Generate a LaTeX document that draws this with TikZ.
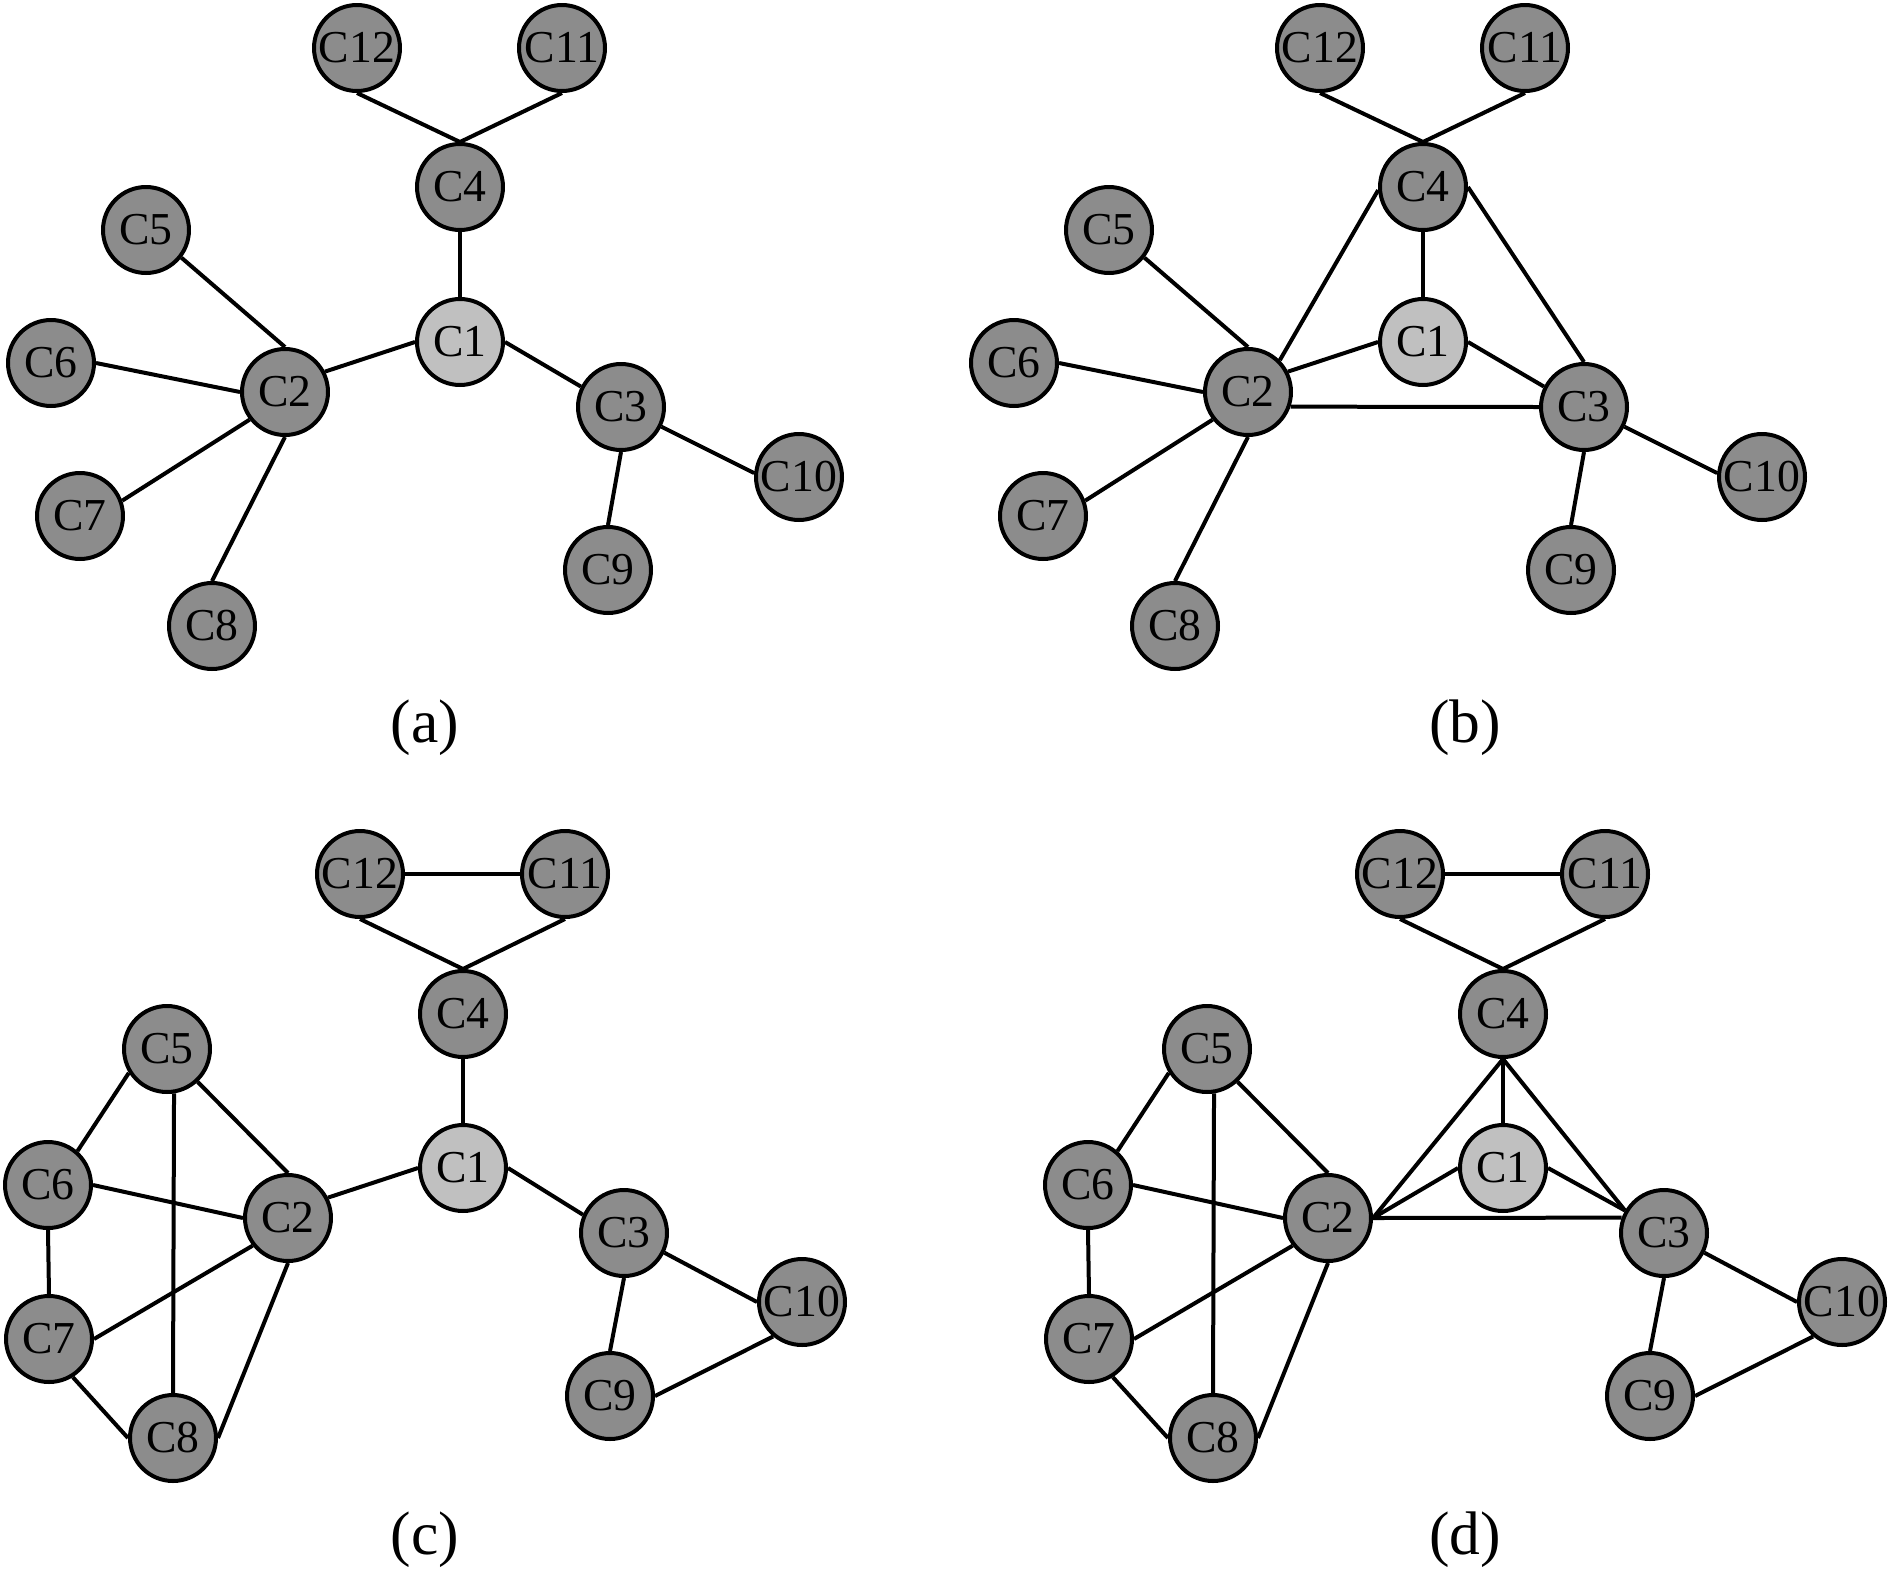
\documentclass[tikz,border=0pt]{standalone}
\usepackage{fontspec}
\setmainfont{Liberation Serif}
\definecolor{nodedark}{RGB}{140,140,140}
\definecolor{nodelight}{RGB}{192,192,192}
\tikzset{
  cbase/.style={circle, draw=black, line width=0.08cm, minimum size=1.72cm, inner sep=0pt,
    font=\fontsize{26pt}{26pt}\selectfont},
  cn/.style={cbase, fill=nodedark},
  cl/.style={cbase, fill=nodelight},
  ed/.style={line width=0.08cm, black},
  plabel/.style={font=\fontsize{35pt}{35pt}\selectfont, inner sep=0pt}
}
\newcommand\mytreeab[2]{%
  \begin{scope}[shift={(#2,0)}]
    \node[cn] (#1c12) at (357,48) {C12};
    \node[cn] (#1c11) at (562,48) {C11};
    \node[cn] (#1c4) at (460,187) {C4};
    \node[cn] (#1c5) at (146,230) {C5};
    \node[cl] (#1c1) at (460,342) {C1};
    \node[cn] (#1c6) at (51,363) {C6};
    \node[cn] (#1c2) at (285,392) {C2};
    \node[cn] (#1c3) at (621,407) {C3};
    \node[cn] (#1c10) at (799,477) {C10};
    \node[cn] (#1c7) at (80,516) {C7};
    \node[cn] (#1c9) at (608,570) {C9};
    \node[cn] (#1c8) at (212,626) {C8};
  \end{scope}
  \draw[ed] (#1c4.north) -- (#1c12.south);
  \draw[ed] (#1c4.north) -- (#1c11.south);
  \draw[ed] (#1c4.south) -- (#1c1.north);
  \draw[ed] (#1c1.west) -- (#1c2.27);
  \draw[ed] (#1c1.east) -- (#1c3.153);
  \draw[ed] (#1c2.north) -- (#1c5.-38);
  \draw[ed] (#1c2.west) -- (#1c6.east);
  \draw[ed] (#1c2.218) -- (#1c7.20);
  \draw[ed] (#1c2.south) -- (#1c8.north);
  \draw[ed] (#1c3.south) -- (#1c9.north);
  \draw[ed] (#1c3.-26) -- (#1c10.175);
}
\newcommand\mytreecd[2]{%
  \begin{scope}[shift={(#2,0)}]
    \node[cn] (#1c12) at (360,874) {C12};
    \node[cn] (#1c11) at (565,874) {C11};
    \node[cn] (#1c4) at (463,1014) {C4};
    \node[cn] (#1c5) at (167,1049) {C5};
    \node[cl] (#1c1) at (463,1168) {C1};
    \node[cn] (#1c6) at (48,1185) {C6};
    \node[cn] (#1c2) at (288,1218) {C2};
    \node[cn] (#1c3) at (624,1233) {C3};
    \node[cn] (#1c10) at (802,1302) {C10};
    \node[cn] (#1c7) at (49,1339) {C7};
    \node[cn] (#1c9) at (610,1396) {C9};
    \node[cn] (#1c8) at (173,1438) {C8};
  \end{scope}
  \draw[ed] (#1c12.east) -- (#1c11.west);
  \draw[ed] (#1c4.north) -- (#1c12.south);
  \draw[ed] (#1c4.north) -- (#1c11.south);
  \draw[ed] (#1c4.south) -- (#1c1.north);
  \draw[ed] (#1c5.212) -- (#1c6.49);
  \draw[ed] (#1c5.-81) -- (#1c8.north);
  \draw[ed] (#1c5.-47) -- (#1c2.north);
  \draw[ed] (#1c6.east) -- (#1c2.west);
  \draw[ed] (#1c6.south) -- (#1c7.north);
  \draw[ed] (#1c7.east) -- (#1c2.218);
  \draw[ed] (#1c7.-58) -- (#1c8.west);
  \draw[ed] (#1c8.east) -- (#1c2.south);
  \draw[ed] (#1c3.south) -- (#1c9.north);
  \draw[ed] (#1c3.-26) -- (#1c10.west);
  \draw[ed] (#1c9.east) -- (#1c10.230);
}
\begin{document}
\begin{tikzpicture}[x=0.02cm, y=-0.02cm]
  \useasboundingbox (0,0) rectangle (1890,1576);
  % (a)
  \mytreeab{a}{0}
  % (b)
  \mytreeab{b}{963}
  \draw[ed] (bc2.45) -- (bc4.184);
  \draw[ed] (bc4.east) -- (bc3.north);
  \draw[ed] (bc2.-19) -- (bc3.west);
  % (c)
  \mytreecd{c}{0}
  \draw[ed] (cc1.west) -- (cc2.27);
  \draw[ed] (cc1.east) -- (cc3.156);
  % (d)
  \mytreecd{d}{1040}
  \draw[ed] (dc4.south) -- (dc2.east);
  \draw[ed] (dc4.south) -- (dc3.150);
  \draw[ed] (dc1.west) -- (dc2.east);
  \draw[ed] (dc1.east) -- (dc3.150);
  \draw[ed] (dc2.east) -- (dc3.160);
  % labels
  \node[plabel] (la) at (425,728) {(a)};
  \node[plabel] (lb) at (1465,728) {(b)};
  \node[plabel] (lc) at (425,1540) {(c)};
  \node[plabel] (ld) at (1465,1540) {(d)};
\end{tikzpicture}
\end{document}
